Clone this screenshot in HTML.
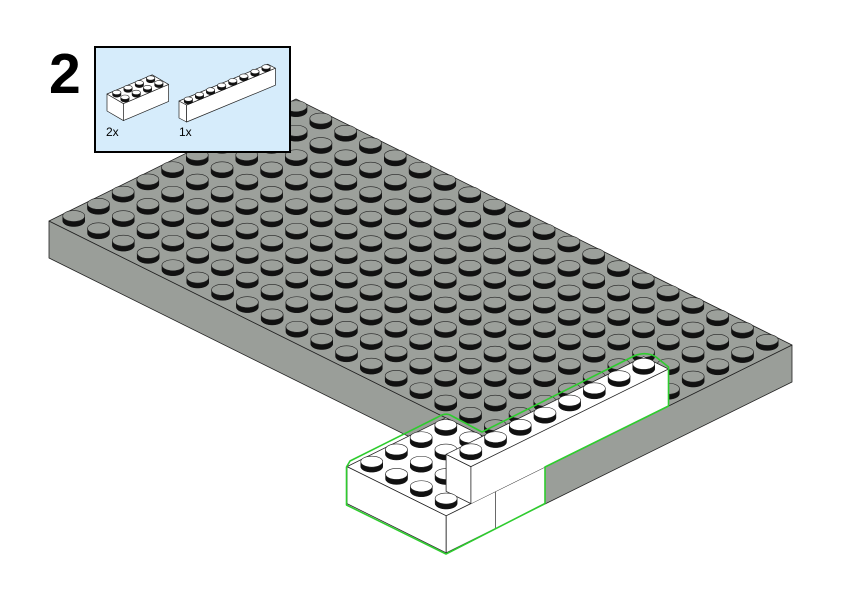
<!DOCTYPE html>
<html><head><meta charset="utf-8"><style>
html,body{margin:0;padding:0;background:#fff;}
svg{display:block;}
</style></head><body>
<svg id="s" width="842" height="596" viewBox="0 0 842 596" xmlns="http://www.w3.org/2000/svg">
<g id="g"></g>
<rect x="95" y="47" width="195" height="105" fill="#d6ecfb" stroke="#000" stroke-width="2"/>
<g id="ins"></g>
<text x="49" y="93" font-family="Liberation Sans, sans-serif" font-weight="bold" font-size="57" fill="#000">2</text>
<text x="106" y="136" font-family="Liberation Sans, sans-serif" font-size="12" fill="#000">2x</text>
<text x="179" y="136" font-family="Liberation Sans, sans-serif" font-size="12" fill="#000">1x</text>
</svg>
<script>
(function(){
var NS="http://www.w3.org/2000/svg";
var g=document.getElementById('g'), ins=document.getElementById('ins');
function el(p,t,a){var e=document.createElementNS(NS,t);for(var k in a)e.setAttribute(k,a[k]);p.appendChild(e);return e;}
function P(L,S,z){return [49+24.8*L+24.7*S, 221+12.3*L-12.2*S-37*z];}
function pts(a){return a.map(function(p){return p[0].toFixed(1)+','+p[1].toFixed(1);}).join(' ');}
function poly(p,arr,fill,stroke,sw){el(p,'polygon',{points:pts(arr),fill:fill,stroke:stroke||'none','stroke-width':sw||0.8,'stroke-linejoin':'round'});}
function line(p,a,b,c,w){el(p,'line',{x1:a[0],y1:a[1],x2:b[0],y2:b[1],stroke:c||'#222','stroke-width':w||0.8});}
function stud(p,cx,cy,rx,ry,h,top){
  el(p,'path',{d:'M'+(cx-rx)+','+(cy-h)+' L'+(cx-rx)+','+cy+' A'+rx+' '+ry+' 0 0 0 '+(cx+rx)+','+cy+' L'+(cx+rx)+','+(cy-h)+' Z',fill:'#111',stroke:'#111','stroke-width':0.5});
  el(p,'ellipse',{cx:cx,cy:cy-h,rx:rx,ry:ry,fill:top,stroke:'#222','stroke-width':0.6});
}
var PC='#9ca09b';
// plate
poly(g,[P(0,0,0),P(20,0,0),P(20,0,-1),P(0,0,-1)],'#9a9e99','#222');
poly(g,[P(20,0,0),P(20,10,0),P(20,10,-1),P(20,0,-1)],'#9a9e99','#222');
poly(g,[P(0,0,0),P(0,10,0),P(20,10,0),P(20,0,0)],PC,'#222');
var list=[];
for(var i=0;i<20;i++)for(var j=0;j<10;j++){ if(i==19&&j<5)continue; list.push(P(i+.5,j+.5,0)); }
list.sort(function(a,b){return a[1]-b[1];});
list.forEach(function(b){stud(g,b[0],b[1],11,5.5,5,PC);});
// lower block
poly(g,[P(16,-4,0),P(20,-4,0),P(20,0,0),P(16,0,0)],'#fff','#222');
poly(g,[P(16,-4,0),P(20,-4,0),P(20,-4,-1),P(16,-4,-1)],'#fff','#222');
poly(g,[P(20,-4,0),P(20,0,0),P(20,0,-1),P(20,-4,-1)],'#fff','#222');
line(g,P(20,-2,0),P(20,-2,-1),'#444',0.8);
var lb=[];
for(var i=16;i<20;i++)for(var j=-4;j<0;j++){ if(i==19)continue; lb.push(P(i+.5,j+.5,0)); }
lb.sort(function(a,b){return a[1]-b[1];});
lb.forEach(function(b){stud(g,b[0],b[1],11,5.5,5,'#fff');});
// 1x8
poly(g,[P(19,-3,1),P(20,-3,1),P(20,-3,0),P(19,-3,0)],'#fff','#222');
poly(g,[P(20,-3,1),P(20,5,1),P(20,5,0),P(20,-3,0)],'#fff','none');
line(g,P(20,-3,1),P(20,-3,0));
poly(g,[P(19,-3,1),P(20,-3,1),P(20,5,1),P(19,5,1)],'#fff','#222');
for(var j=-3;j<5;j++){var b=P(19.5,j+.5,1);stud(g,b[0],b[1],11,5.5,5,'#fff');}
var b=P(19.5,-3.5,0);stud(g,b[0],b[1],11,5.5,5,'#fff');
b=P(19.5,-2.5,0);
// green outline
el(g,'path',{d:'M346.5,467 L346.5,505 L446,554 L545,503.5 L545,467 L668.5,406 L668.5,367 L656,357 Q646,351 634,356 L482,432 L452,416 Q446,412 438,417 L350,461 Z',fill:'none',stroke:'#2ecc2e','stroke-width':1.6,'stroke-linejoin':'round'});
// inset bricks
function brick(Q,A,B,n,m,h){
  function p(a,b2,z){return [Q[0]+A[0]*a+B[0]*b2, Q[1]+A[1]*a+B[1]*b2+h*z];}
  poly(ins,[p(0,0,0),p(0,m,0),p(0,m,1),p(0,0,1)],'#fff','#222',0.7);
  poly(ins,[p(0,m,0),p(n,m,0),p(n,m,1),p(0,m,1)],'#fff','#222',0.7);
  poly(ins,[p(0,0,0),p(n,0,0),p(n,m,0),p(0,m,0)],'#fff','#222',0.7);
  var s=[];for(var a=0;a<n;a++)for(var c=0;c<m;c++)s.push(p(a+.5,c+.5,0));
  s.sort(function(x,y){return x[1]-y[1];});
  s.forEach(function(q){stud(ins,q[0],q[1]+1,4.2,2.2,2.6,'#fff');});
}
brick([107,94],[11.3,-4.8],[8.2,4.8],4,2,17);
brick([179,101],[11.1,-4.6],[7.6,4],8,1,17);
})();
</script>
</body></html>
